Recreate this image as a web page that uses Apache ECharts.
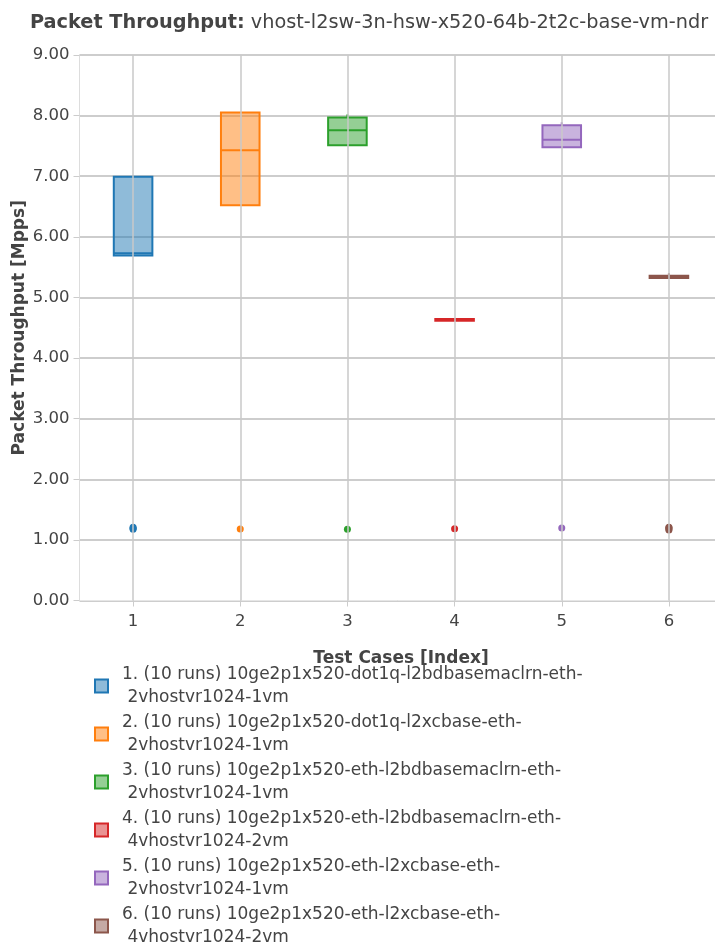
<!DOCTYPE html>
<html>
<head>
<meta charset="utf-8">
<script src="https://cdn.jsdelivr.net/npm/echarts@6/dist/echarts.min.js"></script>
<style>html,body{margin:0;padding:0;background:#fff}#c{width:715px;height:942px}</style>
</head>
<body>
<div id="c"></div>
<script>
// ---- data ----
const categories = ['1', '2', '3', '4', '5', '6'];
const caseIndex = [1, 2, 3, 4, 5, 6];
const whiskerLow = [5.69, 6.52, 7.51, 4.615, 7.48, 5.32];
const quartile1 = [5.69, 6.52, 7.51, 4.615, 7.48, 5.32];
const medians = [5.73, 7.43, 7.76, 4.63, 7.60, 5.34];
const quartile3 = [6.99, 8.05, 7.97, 4.645, 7.84, 5.358];
const whiskerHigh = [7.01, 8.05, 8.02, 4.645, 7.89, 5.40];
const outliers1 = [1.175, 1.19, 1.21];
const outliers2 = [1.18];
const outliers3 = [1.175];
const outliers4 = [1.185];
const outliers5 = [1.195];
const outliers6 = [1.165, 1.18, 1.20, 1.21];
const yTicks = ['0.00', '1.00', '2.00', '3.00', '4.00', '5.00', '6.00', '7.00', '8.00', '9.00'];
const legendLabels = [
  '1. (10 runs) 10ge2p1x520-dot1q-l2bdbasemaclrn-eth-\n 2vhostvr1024-1vm',
  '2. (10 runs) 10ge2p1x520-dot1q-l2xcbase-eth-\n 2vhostvr1024-1vm',
  '3. (10 runs) 10ge2p1x520-eth-l2bdbasemaclrn-eth-\n 2vhostvr1024-1vm',
  '4. (10 runs) 10ge2p1x520-eth-l2bdbasemaclrn-eth-\n 4vhostvr1024-2vm',
  '5. (10 runs) 10ge2p1x520-eth-l2xcbase-eth-\n 2vhostvr1024-1vm',
  '6. (10 runs) 10ge2p1x520-eth-l2xcbase-eth-\n 4vhostvr1024-2vm'
];
const outlierLists = [outliers1, outliers2, outliers3, outliers4, outliers5, outliers6];

// ---- styles ----
const colors = ['#1f77b4', '#ff7f0e', '#2ca02c', '#d62728', '#9467bd', '#8c564b'];
const fills = ['rgba(31,119,180,0.5)', 'rgba(255,127,14,0.5)', 'rgba(44,160,44,0.5)', 'rgba(214,39,40,0.5)', 'rgba(148,103,189,0.5)', 'rgba(140,86,75,0.5)'];
const FONT = 'DejaVu Sans';
const BOXW = 0.36;

function renderBox(params, api) {
  const x = api.value(0);
  const half = api.size([BOXW, 0])[0] / 2;
  const pLo = api.coord([x, api.value(1)]);
  const pQ1 = api.coord([x, api.value(2)]);
  const pMed = api.coord([x, api.value(3)]);
  const pQ3 = api.coord([x, api.value(4)]);
  const pHi = api.coord([x, api.value(5)]);
  const i = params.seriesIndex;
  const stroke = colors[i];
  return {
    type: 'group',
    children: [
      { type: 'line', shape: { x1: pHi[0], y1: pHi[1], x2: pQ3[0], y2: pQ3[1] }, style: { stroke: stroke, lineWidth: 2 } },
      { type: 'line', shape: { x1: pLo[0], y1: pLo[1], x2: pQ1[0], y2: pQ1[1] }, style: { stroke: stroke, lineWidth: 2 } },
      { type: 'rect', shape: { x: pQ3[0] - half, y: pQ3[1], width: half * 2, height: pQ1[1] - pQ3[1] }, style: { fill: fills[i], stroke: stroke, lineWidth: 2 } },
      { type: 'line', shape: { x1: pMed[0] - half, y1: pMed[1], x2: pMed[0] + half, y2: pMed[1] }, style: { stroke: stroke, lineWidth: 2 } }
    ]
  };
}

const series = [];
for (let i = 0; i < categories.length; i++) {
  series.push({
    name: legendLabels[i],
    type: 'custom',
    renderItem: renderBox,
    encode: { x: 0, y: [1, 2, 3, 4, 5] },
    itemStyle: { color: fills[i], borderColor: colors[i], borderWidth: 2 },
    data: [[caseIndex[i], whiskerLow[i], quartile1[i], medians[i], quartile3[i], whiskerHigh[i]]],
    z: 3
  });
}
for (let i = 0; i < categories.length; i++) {
  series.push({
    name: 'outliers' + (i + 1),
    type: 'scatter',
    symbol: 'circle',
    symbolSize: 7,
    itemStyle: { color: colors[i], opacity: 1 },
    data: outlierLists[i].map(v => [caseIndex[i], v]),
    z: 4
  });
}
// vertical grid lines at each test case
series.push({
  name: 'xgrid',
  type: 'line',
  data: [],
  z: 1,
  markLine: {
    silent: true,
    symbol: ['none', 'none'],
    label: { show: false },
    animation: false,
    lineStyle: { color: '#c8c8c8', width: 1.5, type: 'solid' },
    emphasis: { disabled: true },
    data: caseIndex.map(v => ({ xAxis: v }))
  }
});

const chart = echarts.init(document.getElementById('c'), null, { renderer: 'canvas' });
chart.setOption({
  animation: false,
  backgroundColor: '#ffffff',
  textStyle: { fontFamily: FONT },
  title: {
    text: '{b|Packet Throughput:} {n|vhost-l2sw-3n-hsw-x520-64b-2t2c-base-vm-ndr}',
    left: 25,
    top: 8,
    textStyle: {
      fontWeight: 'normal',
      fontSize: 19.3,
      rich: {
        b: { fontFamily: FONT, fontWeight: 'bold', fontSize: 19.3, color: '#444' },
        n: { fontFamily: FONT, fontWeight: 'normal', fontSize: 19.3, color: '#444' }
      }
    }
  },
  grid: { left: 79.5, top: 55, width: 643, height: 545.5, containLabel: false, outerBoundsMode: 'none' },
  xAxis: {
    type: 'value',
    min: 0.5,
    max: 6.5,
    name: 'Test Cases [Index]',
    nameLocation: 'middle',
    nameGap: 50,
    nameMoveOverlap: false,
    nameTextStyle: { fontFamily: FONT, fontWeight: 'bold', fontSize: 17, color: '#444' },
    axisLine: { show: true, lineStyle: { color: '#e6e6e6', width: 1 } },
    axisTick: { show: true, length: 6, customValues: caseIndex, lineStyle: { color: '#cccccc' } },
    axisLabel: {
      fontFamily: FONT, fontSize: 16.5, color: '#444', margin: 13,
      customValues: caseIndex,
      formatter: v => { const k = caseIndex.indexOf(v); return k >= 0 ? categories[k] : ''; }
    },
    splitLine: { show: false }
  },
  yAxis: {
    type: 'value',
    min: 0,
    max: 9,
    interval: 1,
    name: 'Packet Throughput [Mpps]',
    nameLocation: 'middle',
    nameGap: 51,
    nameMoveOverlap: false,
    nameTextStyle: { fontFamily: FONT, fontWeight: 'bold', fontSize: 17, color: '#444' },
    axisLine: { show: true, lineStyle: { color: '#dddddd', width: 1 } },
    axisTick: { show: true, length: 6, lineStyle: { color: '#cccccc' } },
    axisLabel: {
      fontFamily: FONT, fontSize: 16.5, color: '#444', margin: 10,
      formatter: v => yTicks[Math.round(v)]
    },
    splitLine: { show: true, lineStyle: { color: '#bdbdbd', width: 1.5 } }
  },
  legend: {
    orient: 'vertical',
    left: 89,
    top: 658,
    height: 320,
    itemWidth: 13,
    itemHeight: 13,
    itemGap: 2,
    icon: 'rect',
    data: legendLabels.map((n, i) => ({ name: n, itemStyle: { color: fills[i], borderColor: colors[i], borderWidth: 2 } })),
    textStyle: { fontFamily: FONT, fontSize: 17, color: '#444', lineHeight: 23, padding: [0, 0, 0, 9] }
  },
  series: series
});
</script>
</body>
</html>
